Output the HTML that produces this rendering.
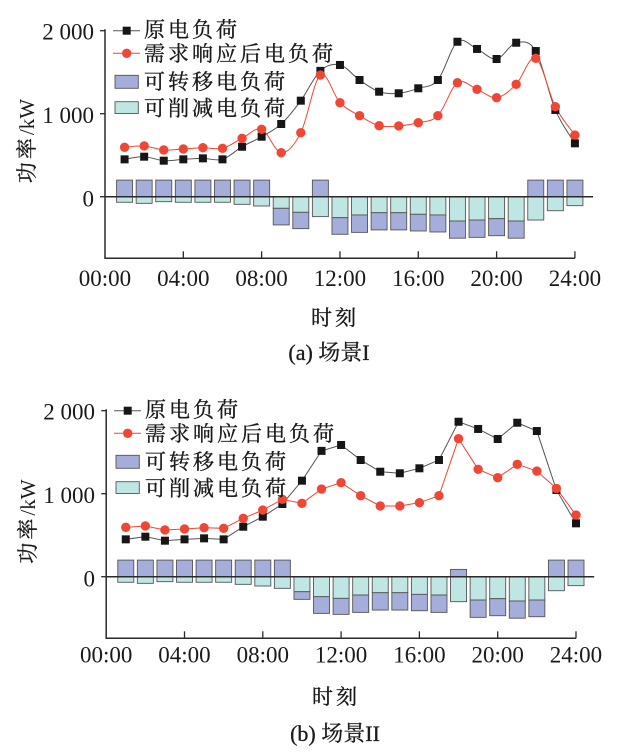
<!DOCTYPE html>
<html><head><meta charset="utf-8">
<style>
html,body{margin:0;padding:0;background:#fff;}
svg{display:block;}
.num{font-family:"Liberation Serif",serif;font-size:23px;fill:#1a1a1a;}
.cjk{font-family:"Liberation Serif","Noto Serif CJK SC",serif;font-size:21px;fill:#1a1a1a;letter-spacing:3px;stroke:#1a1a1a;stroke-width:0.35px;}
.cap{font-family:"Liberation Serif","Noto Serif CJK SC",serif;font-size:22px;fill:#1a1a1a;stroke:#1a1a1a;stroke-width:0.3px;}
</style></head>
<body>
<svg id="s" xmlns="http://www.w3.org/2000/svg" width="627" height="755" viewBox="0 0 627 755">
<rect width="627" height="755" fill="#fff"/>
<g id="g1"></g>
<g id="g2"></g>
<!-- Top chart text -->
<text class="num" x="94" y="39.5" text-anchor="end">2 000</text>
<text class="num" x="94" y="123" text-anchor="end">1 000</text>
<text class="num" x="94" y="206.5" text-anchor="end">0</text>
<text class="num" x="105" y="286" text-anchor="middle">00:00</text>
<text class="num" x="183.3" y="286" text-anchor="middle">04:00</text>
<text class="num" x="261.6" y="286" text-anchor="middle">08:00</text>
<text class="num" x="340" y="286" text-anchor="middle">12:00</text>
<text class="num" x="418.3" y="286" text-anchor="middle">16:00</text>
<text class="num" x="496.6" y="286" text-anchor="middle">20:00</text>
<text class="num" x="575" y="286" text-anchor="middle">24:00</text>
<text class="cjk" x="34" y="141" text-anchor="middle" transform="rotate(-90 34 141)">功率<tspan style="letter-spacing:0;stroke-width:0">/kW</tspan></text>
<text class="cjk" x="144" y="37">原电负荷</text>
<text class="cjk" x="144" y="61">需求响应后电负荷</text>
<text class="cjk" x="144" y="89">可转移电负荷</text>
<text class="cjk" x="144" y="115.5">可削减电负荷</text>
<text class="cjk" x="335" y="325" text-anchor="middle">时刻</text>
<text class="cap" x="329" y="360" text-anchor="middle">(a) 场景I</text>
<!-- Bottom chart text -->
<text class="num" x="95" y="419.5" text-anchor="end">2 000</text>
<text class="num" x="95" y="503" text-anchor="end">1 000</text>
<text class="num" x="95" y="586.5" text-anchor="end">0</text>
<text class="num" x="106.2" y="662.5" text-anchor="middle">00:00</text>
<text class="num" x="184.5" y="662.5" text-anchor="middle">04:00</text>
<text class="num" x="262.8" y="662.5" text-anchor="middle">08:00</text>
<text class="num" x="341.1" y="662.5" text-anchor="middle">12:00</text>
<text class="num" x="419.4" y="662.5" text-anchor="middle">16:00</text>
<text class="num" x="497.7" y="662.5" text-anchor="middle">20:00</text>
<text class="num" x="576" y="662.5" text-anchor="middle">24:00</text>
<text class="cjk" x="35" y="521.5" text-anchor="middle" transform="rotate(-90 35 521.5)">功率<tspan style="letter-spacing:0;stroke-width:0">/kW</tspan></text>
<text class="cjk" x="145" y="417">原电负荷</text>
<text class="cjk" x="145" y="441">需求响应后电负荷</text>
<text class="cjk" x="145" y="469">可转移电负荷</text>
<text class="cjk" x="145" y="495.5">可削减电负荷</text>
<text class="cjk" x="336" y="704" text-anchor="middle">时刻</text>
<text class="cap" x="335" y="741" text-anchor="middle">(b) 场景II</text>
</svg>
<script>
(function(){
var NS='http://www.w3.org/2000/svg';
function el(t,a,p){var e=document.createElementNS(NS,t);for(var k in a)e.setAttribute(k,a[k]);p.appendChild(e);return e;}
var BLUE='#a5addb',CYAN='#bfe6e3',EDGE='#555',RED='#ef4636',AX='#2a2a2a';
var black=[450,482,434,450,462,450,602,723,876,1157,1516,1587,1406,1265,1246,1306,1406,1867,1780,1659,1855,1755,1045,643];
var redA=[595,611,563,575,590,583,703,812,530,771,1466,1133,976,855,852,892,976,1373,1294,1193,1354,1667,1084,743];
var redB=[595,611,563,575,590,583,703,803,932,884,1056,1133,976,852,852,892,976,1663,1294,1193,1354,1273,1064,743];
var posA=[200,200,200,200,200,200,200,200,0,0,200,0,0,0,0,0,0,0,0,0,0,200,200,200];
var cyA=[67,80,60,67,67,67,92,112,140,188,240,253,220,193,193,212,220,293,281,265,293,281,169,108];
var bnA=[0,0,0,0,0,0,0,0,340,385,0,453,430,400,400,413,425,500,490,470,500,0,0,0];
var posB=[200,200,200,200,200,200,200,200,200,0,0,0,0,0,0,0,0,88,0,0,0,0,200,200];
var cyB=[67,80,60,67,67,67,92,112,140,181,241,261,221,193,193,213,221,301,281,265,293,281,169,108];
var bnB=[0,0,0,0,0,0,0,0,0,273,442,454,430,402,402,410,430,0,490,470,500,482,0,0];
function path(pts,smooth){
  var d='M'+pts[0][0].toFixed(2)+','+pts[0][1].toFixed(2);
  for(var i=0;i<pts.length-1;i++){
    var p0=pts[i-1]||pts[i],p1=pts[i],p2=pts[i+1],p3=pts[i+2]||p2;
    if(smooth){
      var c1x=p1[0]+(p2[0]-p0[0])/6,c1y=p1[1]+(p2[1]-p0[1])/6;
      var c2x=p2[0]-(p3[0]-p1[0])/6,c2y=p2[1]-(p3[1]-p1[1])/6;
      d+=' C'+c1x.toFixed(2)+','+c1y.toFixed(2)+' '+c2x.toFixed(2)+','+c2y.toFixed(2)+' '+p2[0].toFixed(2)+','+p2[1].toFixed(2);
    } else d+=' L'+p2[0].toFixed(2)+','+p2[1].toFixed(2);
  }
  return d;
}
function chart(g,ox,y0,sx,red,pos,cy,bn,smooth,dx,dy){
  var k=0.083;
  function X(h){return ox+sx*h;} function Y(v){return y0-v*k;}
  for(var h=1;h<=24;h++){
    var x=X(h)-8,i=h-1;
    if(pos[i]>0) el('rect',{x:x,y:Y(pos[i]),width:16,height:pos[i]*k,fill:BLUE,stroke:EDGE,'stroke-width':0.9},g);
    el('rect',{x:x,y:y0,width:16,height:cy[i]*k,fill:CYAN,stroke:EDGE,'stroke-width':0.9},g);
    if(bn[i]>0) el('rect',{x:x,y:Y(-cy[i]),width:16,height:(bn[i]-cy[i])*k,fill:BLUE,stroke:EDGE,'stroke-width':0.9},g);
  }
  var bot=y0+61.6, right=X(24);
  el('line',{x1:ox,y1:y0,x2:ox+488,y2:y0,stroke:AX,'stroke-width':1.5},g);
  el('line',{x1:ox,y1:Y(2000)-1.5,x2:ox,y2:bot,stroke:AX,'stroke-width':1.5},g);
  el('line',{x1:ox-0.7,y1:bot,x2:right,y2:bot,stroke:AX,'stroke-width':1.5},g);
  [0,1000,2000].forEach(function(v){el('line',{x1:ox-5,y1:Y(v),x2:ox,y2:Y(v),stroke:AX,'stroke-width':1.3},g);});
  for(var t=4;t<=24;t+=4) el('line',{x1:X(t),y1:bot,x2:X(t),y2:bot-7,stroke:AX,'stroke-width':1.3},g);
  var pb=[],pr=[];
  for(var h=1;h<=24;h++){pb.push([X(h),Y(black[h-1])]);pr.push([X(h),Y(red[h-1])]);}
  el('path',{d:path(pb,smooth),fill:'none',stroke:'#555','stroke-width':1},g);
  el('path',{d:path(pr,smooth),fill:'none',stroke:RED,'stroke-width':1},g);
  pb.forEach(function(p){el('rect',{x:p[0]-4,y:p[1]-4,width:8,height:8,fill:'#161616'},g);});
  pr.forEach(function(p){el('circle',{cx:p[0],cy:p[1],r:4.7,fill:RED},g);});
  // legend
  el('line',{x1:113+dx,y1:30.7+dy,x2:140+dx,y2:30.7+dy,stroke:'#555','stroke-width':1},g);
  el('rect',{x:122.7+dx,y:26.7+dy,width:8,height:8,fill:'#161616'},g);
  el('line',{x1:113+dx,y1:53.3+dy,x2:140+dx,y2:53.3+dy,stroke:RED,'stroke-width':1},g);
  el('circle',{cx:126.7+dx,cy:53.3+dy,r:4.7,fill:RED},g);
  el('rect',{x:115+dx,y:75.3+dy,width:23.3,height:13,fill:BLUE,stroke:EDGE,'stroke-width':0.9},g);
  el('rect',{x:115+dx,y:101.7+dy,width:23.3,height:11.8,fill:CYAN,stroke:EDGE,'stroke-width':0.9},g);
}
chart(document.getElementById('g1'),105,196.7,19.58,redA,posA,cyA,bnA,true,0,0);
chart(document.getElementById('g2'),106.2,576.7,19.575,redB,posB,cyB,bnB,false,1,380);
})();
</script>
</body></html>
